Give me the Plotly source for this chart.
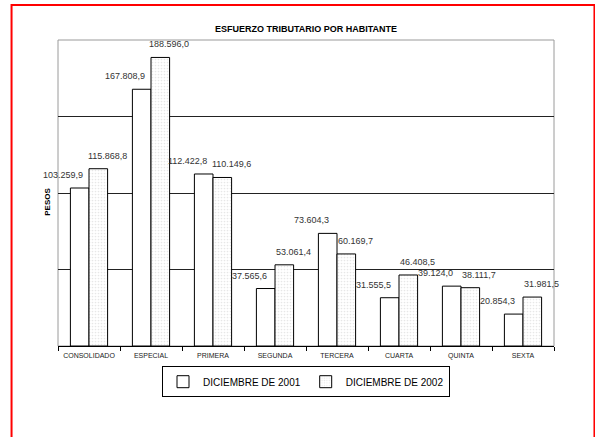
import plotly.graph_objects as go

categories = ["CONSOLIDADO", "ESPECIAL", "PRIMERA", "SEGUNDA", "TERCERA", "CUARTA", "QUINTA", "SEXTA"]
values_2001 = [103259.9, 167808.9, 112422.8, 37565.6, 73604.3, 31555.5, 39124.0, 20854.3]
values_2002 = [115868.8, 188596.0, 110149.6, 53061.4, 60169.7, 46408.5, 38111.7, 31981.5]
series_names = ["DICIEMBRE DE 2001", "DICIEMBRE DE 2002"]
y_gridlines = [50000, 100000, 150000]
y_range = [0, 200000]


def fmt(v):
    s = f"{v:,.1f}"
    return s.replace(",", "X").replace(".", ",").replace("X", ".")


FONT = "Arial, Liberation Sans, sans-serif"

fig = go.Figure()
fig.add_trace(go.Bar(
    x=categories, y=values_2001, name=series_names[0],
    marker=dict(color="white", line=dict(color="black", width=1)),
))
fig.add_trace(go.Bar(
    x=categories, y=values_2002, name=series_names[1],
    marker=dict(color="white", line=dict(color="black", width=1),
                pattern=dict(shape=".", size=3, solidity=0.25, fgcolor="#cfcfcf", bgcolor="white")),
))

annotations = []
for cat, v in zip(categories, values_2001):
    annotations.append(dict(x=cat, y=v, xref="x", yref="y", text=fmt(v), showarrow=False,
                            xshift=-26, yshift=13, font=dict(family=FONT, size=9, color="#333")))
for cat, v in zip(categories, values_2002):
    annotations.append(dict(x=cat, y=v, xref="x", yref="y", text=fmt(v), showarrow=False,
                            xshift=18, yshift=13, font=dict(family=FONT, size=9, color="#333")))
annotations.append(dict(x=-0.021, y=0.47, xref="paper", yref="paper", text="<b>PESOS</b>",
                        textangle=-90, showarrow=False, xanchor="center", yanchor="middle",
                        font=dict(family=FONT, size=8, color="black")))

shapes = [
    dict(type="rect", xref="paper", yref="paper", x0=0, x1=1, y0=0, y1=1,
         line=dict(color="#9a9a9a", width=1), layer="below"),
    dict(type="rect", xref="paper", yref="paper",
         x0=(11 - 57.5) / 496.5, x1=(594.5 - 57.5) / 496.5,
         y0=(346 - 460) / 306, y1=(346 - 5) / 306,
         line=dict(color="red", width=2)),
]

fig.update_layout(
    width=595, height=437,
    margin=dict(l=57.5, r=41, t=40, b=91, autoexpand=False),
    paper_bgcolor="white", plot_bgcolor="white",
    barmode="group", bargap=0.4, bargroupgap=0,
    title=dict(text="<b>ESFUERZO TRIBUTARIO POR HABITANTE</b>", x=0.5, xref="paper", xanchor="center",
               y=1 - 29 / 437, yanchor="middle", font=dict(family=FONT, size=9, color="black")),
    showlegend=True,
    legend=dict(orientation="h", x=0.5, xanchor="center", y=-0.066, yanchor="top",
                bordercolor="black", borderwidth=1, bgcolor="white",
                font=dict(family=FONT, size=10, color="black"), itemwidth=30,
                traceorder="normal"),
    annotations=annotations,
    shapes=shapes,
    font=dict(family=FONT),
)
fig.update_xaxes(range=[-0.5, len(categories) - 0.5], autorange=False,
                 showline=True, linecolor="black", linewidth=1, ticks="outside", tickson="boundaries",
                 ticklen=4, tickcolor="black", tickangle=0, automargin=False, ticklabelstandoff=3,
                 tickfont=dict(family=FONT, size=7, color="#222"),
                 showgrid=False, fixedrange=True)
fig.update_yaxes(range=y_range, tickvals=y_gridlines, showticklabels=False, showgrid=True,
                 gridcolor="#222", gridwidth=1, zeroline=False, showline=False, ticks="",
                 automargin=False, fixedrange=True)

fig.write_html("out.html", config={"displayModeBar": False},
               post_script="document.body.style.margin='0';")
